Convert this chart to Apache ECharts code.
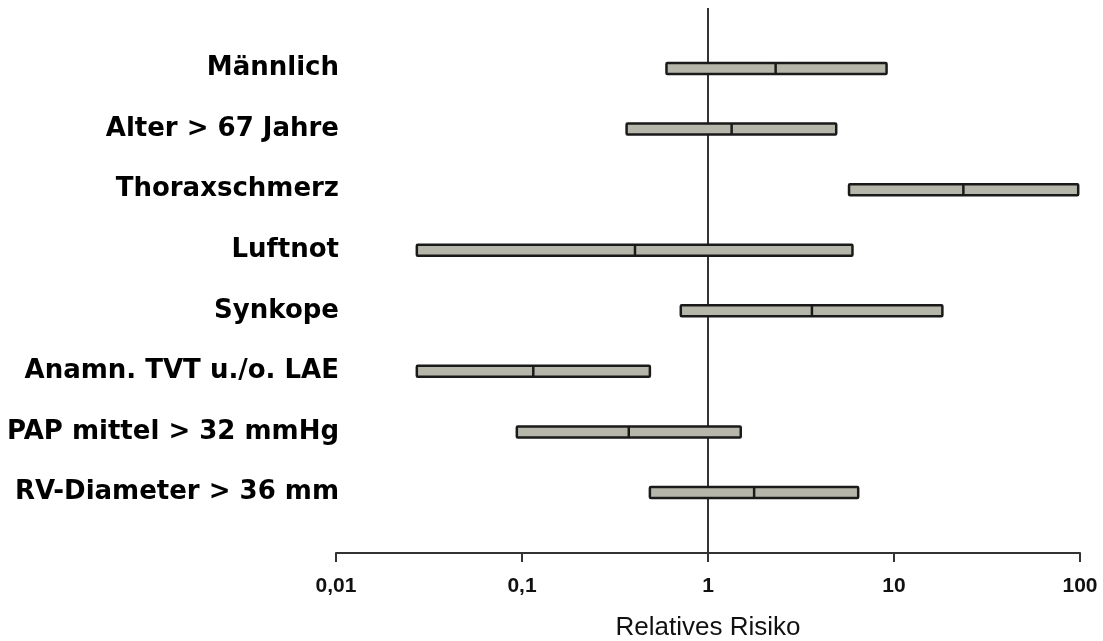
<!DOCTYPE html>
<html>
<head>
<meta charset="utf-8">
<script src="https://cdn.jsdelivr.net/npm/echarts@6/dist/echarts.min.js"></script>
<style>html,body{margin:0;padding:0;background:#fff;}#c{width:1103px;height:641px;}</style>
</head>
<body>
<div id="c"></div>
<script>
const categories = ["Männlich", "Alter > 67 Jahre", "Thoraxschmerz", "Luftnot", "Synkope", "Anamn. TVT u./o. LAE", "PAP mittel > 32 mmHg", "RV-Diameter > 36 mm"];
const lower = [0.598, 0.365, 5.73, 0.0272, 0.714, 0.0272, 0.0938, 0.487];
const estimate = [2.31, 1.34, 23.6, 0.405, 3.62, 0.115, 0.375, 1.77];
const upper = [9.12, 4.89, 97.8, 5.98, 18.2, 0.487, 1.50, 6.42];
const xTicks = {0.01: "0,01", 0.1: "0,1", 1: "1", 10: "10", 100: "100"};

const n = categories.length;
const rows = categories.map((c, i) => [lower[i], estimate[i], upper[i], n - i]);

const chart = echarts.init(document.getElementById('c'));
chart.setOption({
  animation: false,
  grid: {left: 336, right: 23, top: 8, bottom: 88, containLabel: false, outerBoundsMode: 'none'},
  xAxis: {
    type: 'log', logBase: 10, min: 0.01, max: 100,
    axisLine: {show: true, lineStyle: {color: '#333', width: 2}},
    axisTick: {show: true, inside: false, length: 9, lineStyle: {color: '#333', width: 2}},
    minorTick: {show: false},
    splitLine: {show: false},
    axisLabel: {
      margin: 23, color: '#111', fontFamily: 'Liberation Sans', fontWeight: 'bold', fontSize: 21,
      formatter: v => xTicks[+v.toPrecision(6)] ?? ''
    },
    name: 'Relatives Risiko', nameLocation: 'middle', nameGap: 62,
    nameTextStyle: {color: '#111', fontFamily: 'Liberation Sans', fontSize: 26}
  },
  yAxis: {
    type: 'value', min: 0, max: n + 1, interval: 1,
    axisLine: {show: false}, axisTick: {show: false}, splitLine: {show: false},
    axisLabel: {
      margin: -3, color: '#000', fontFamily: 'DejaVu Sans', fontWeight: 'bold', fontSize: 26,
      formatter: v => (v >= 1 && v <= n) ? categories[n - v] : ''
    }
  },
  series: [
    {
      type: 'line', data: [[1, 0], [1, n + 1]], symbol: 'none',
      lineStyle: {color: '#333', width: 2}, z: 1, silent: true
    },
    {
      type: 'custom', z: 3,
      data: rows,
      encode: {x: [0, 1, 2], y: 3},
      renderItem: function (params, api) {
        const y = api.value(3);
        const pL = api.coord([api.value(0), y]);
        const pM = api.coord([api.value(1), y]);
        const pU = api.coord([api.value(2), y]);
        const h = 11;
        return {
          type: 'group',
          children: [
            {type: 'rect', shape: {x: pL[0], y: pL[1] - h / 2, width: pU[0] - pL[0], height: h, r: 1},
             style: {fill: '#b6b7aa', stroke: '#1a1a1a', lineWidth: 2.5}},
            {type: 'line', shape: {x1: pM[0], y1: pM[1] - h / 2, x2: pM[0], y2: pM[1] + h / 2},
             style: {stroke: '#1a1a1a', lineWidth: 2.5}}
          ]
        };
      }
    }
  ]
});
</script>
</body>
</html>
